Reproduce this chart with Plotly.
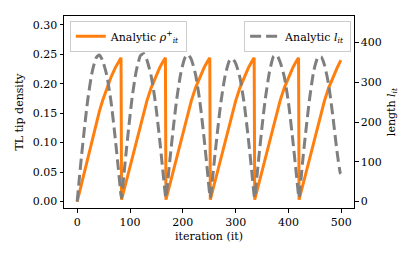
import plotly.graph_objects as go

# iteration sample points (cycles of ~84 iterations)
it = [0, 4, 8, 14, 20, 28, 36, 42, 48, 56, 64, 72, 78, 83,
      84, 88, 92, 98, 104, 112, 120, 126, 132, 140, 148, 156, 162, 167,
      168, 172, 176, 182, 188, 196, 204, 210, 216, 224, 232, 240, 246, 251,
      252, 256, 260, 266, 272, 280, 288, 294, 300, 308, 316, 324, 330, 335,
      336, 340, 344, 350, 356, 364, 372, 378, 384, 392, 400, 408, 414, 419,
      420, 424, 428, 434, 440, 448, 456, 462, 468, 476, 484, 492, 498, 499]

# analytic TL tip density rho_it^+ (left axis)
rho = [0.000, 0.015, 0.030, 0.053, 0.076, 0.106, 0.134, 0.153, 0.171, 0.193, 0.211, 0.227, 0.237, 0.244,
       0.003, 0.017, 0.031, 0.054, 0.077, 0.106, 0.134, 0.153, 0.171, 0.193, 0.211, 0.227, 0.237, 0.244,
       0.003, 0.017, 0.031, 0.054, 0.077, 0.106, 0.134, 0.153, 0.171, 0.193, 0.211, 0.227, 0.237, 0.244,
       0.003, 0.017, 0.031, 0.054, 0.077, 0.106, 0.134, 0.153, 0.171, 0.193, 0.211, 0.227, 0.237, 0.244,
       0.003, 0.017, 0.031, 0.054, 0.077, 0.106, 0.134, 0.153, 0.171, 0.193, 0.211, 0.227, 0.237, 0.244,
       0.003, 0.017, 0.031, 0.054, 0.077, 0.106, 0.134, 0.153, 0.171, 0.193, 0.211, 0.227, 0.238, 0.240]

# analytic length l_it (right axis)
length = [0, 58, 112, 188, 256, 324, 362, 369, 355, 318, 252, 160, 82, 16,
          10, 62, 116, 192, 262, 330, 368, 372, 356, 316, 250, 158, 80, 16,
          10, 58, 112, 186, 254, 322, 362, 370, 358, 320, 254, 162, 84, 16,
          10, 56, 108, 182, 250, 316, 354, 360, 348, 312, 248, 158, 82, 16,
          10, 60, 114, 190, 258, 326, 366, 368, 352, 314, 248, 156, 80, 16,
          10, 62, 118, 192, 260, 330, 364, 364, 344, 294, 214, 124, 72, 70]

x_ticks = [0, 100, 200, 300, 400, 500]
left_ticks = [0.00, 0.05, 0.10, 0.15, 0.20, 0.25, 0.30]
right_ticks = [0, 100, 200, 300, 400]

FONT = "DejaVu Serif"

fig = go.Figure()
fig.add_trace(go.Scatter(
    x=it, y=rho, mode="lines", name="Analytic <i>ρ</i><sup>+</sup><sub><i>it</i></sub>",
    line=dict(color="#ff7f0e", width=3), legend="legend", yaxis="y"))
fig.add_trace(go.Scatter(
    x=it, y=length, mode="lines", name="Analytic <i>l</i><sub><i>it</i></sub>",
    line=dict(color="#7f7f7f", width=3, dash="11px,5px", shape="spline", smoothing=0.6),
    legend="legend2", yaxis="y2"))

axis_common = dict(
    showgrid=False, zeroline=False, showline=True, linecolor="black", linewidth=1,
    ticks="outside", ticklen=3.5, tickwidth=1, tickcolor="black", automargin=False,
    tickfont=dict(family=FONT, size=11, color="black"),
)

# page body has an 8px margin, so the figure is drawn 8px in from the corner
fig.update_layout(
    width=408, height=249,
    margin=dict(l=56, r=62, t=8, b=49),
    paper_bgcolor="white", plot_bgcolor="white",
    font=dict(family=FONT, size=11, color="black"),
    xaxis=dict(range=[-24.95, 523.95], tickvals=x_ticks, mirror=True,
               title=dict(text="iteration (it)", font=dict(family=FONT, size=11), standoff=4),
               **axis_common),
    yaxis=dict(range=[-0.011, 0.315], tickvals=left_ticks, tickformat=".2f",
               title=dict(text="TL tip density", font=dict(family=FONT, size=11), standoff=6),
               **axis_common),
    yaxis2=dict(range=[-16, 467], tickvals=right_ticks, overlaying="y", side="right",
                title=dict(text="length <i>l</i><sub><i>it</i></sub>", font=dict(family=FONT, size=11), standoff=6),
                **axis_common),
    legend=dict(x=0.02, y=0.975, xanchor="left", yanchor="top",
                bgcolor="rgba(255,255,255,0.8)", bordercolor="#cccccc", borderwidth=1,
                font=dict(family=FONT, size=11)),
    legend2=dict(x=0.99, y=0.975, xanchor="right", yanchor="top",
                 bgcolor="rgba(255,255,255,0.8)", bordercolor="#cccccc", borderwidth=1,
                 font=dict(family=FONT, size=11)),
    showlegend=True,
)

fig.write_html("out.html")
